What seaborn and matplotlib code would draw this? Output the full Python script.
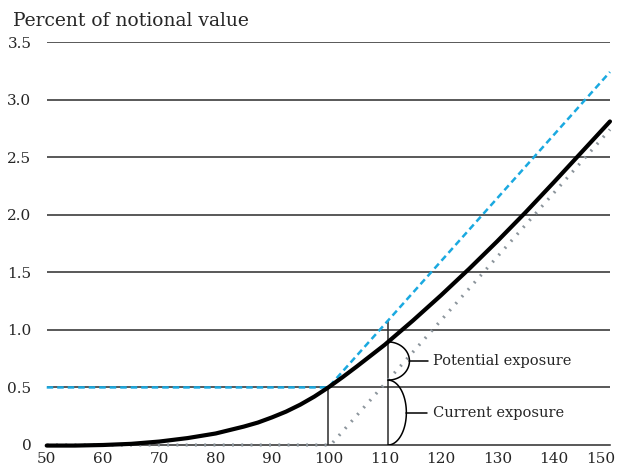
import numpy as np
import pandas as pd
import matplotlib
matplotlib.use('Agg')
from matplotlib import pyplot as plt
from matplotlib import transforms
import seaborn as sns

# values
price = [50, 55, 60, 65, 70, 75, 80, 82.5, 85, 87.5, 90, 92.5, 95, 97.5, 100, 102.5, 105,
         110, 115, 120, 125, 130, 135, 140, 145, 150]
option_value = [-0.005, -0.005, 0.0, 0.01, 0.03, 0.06, 0.10, 0.13, 0.16, 0.195, 0.24, 0.29,
                0.35, 0.42, 0.5, 0.588, 0.68, 0.87, 1.08, 1.30, 1.53, 1.77, 2.02, 2.28,
                2.545, 2.81]
intrinsic_x = [50, 100.4, 150]
intrinsic_y = [0, 0, 2.74]
bound_x = [50, 100, 150]
bound_y = [0.5, 0.5, 3.24]
x_ticks = [50, 60, 70, 80, 90, 100, 110, 120, 130, 140, 150]
y_ticks = [0, 0.5, 1.0, 1.5, 2.0, 2.5, 3.0, 3.5]
y_labels = ['0', '0.5', '1.0', '1.5', '2.0', '2.5', '3.0', '3.5']
marker_x = [100, 110.6]

sns.set_style('white')
plt.rcParams['font.family'] = ['DejaVu Serif']

fig = plt.figure(figsize=(6.18, 4.70), dpi=100)
ax = fig.add_axes([0.0756, 0.0532, 0.9114, 0.8574])

# gridlines
for yv in y_ticks[1:]:
    ax.axhline(yv, color='#2b2b2b', lw=1.1, zorder=1)

# vertical markers
ax.vlines(marker_x[0], 0, 0.5, color='#2b2b2b', lw=1.1, zorder=2)
top_blue = np.interp(marker_x[1], bound_x, bound_y)
ax.vlines(marker_x[1], 0, top_blue, color='#2b2b2b', lw=1.1, zorder=2)

sns.lineplot(x=intrinsic_x, y=intrinsic_y, ax=ax, color='#8c959c', lw=2.3,
             linestyle=(0, (0.6, 2.3)), zorder=3, clip_on=False)
sns.lineplot(x=bound_x, y=bound_y, ax=ax, color='#1aa9e0', lw=1.8,
             linestyle=(0, (2.6, 1.6)), zorder=4, clip_on=False)
sns.lineplot(x=price, y=option_value, ax=ax, color='black', lw=3.0, zorder=5,
             clip_on=False)

# braces
xm = marker_x[1]
y_cur = np.interp(xm, intrinsic_x, intrinsic_y)
y_tot = np.interp(xm, price, option_value)
t = np.linspace(0, np.pi, 80)
w1, w2 = 3.8, 3.25
mid1, h1 = (y_cur + y_tot) / 2, (y_tot - y_cur) / 2
mid2, h2 = y_cur / 2, y_cur / 2
ax.plot(xm + w1 * np.sin(t), mid1 + h1 * np.cos(t), color='black', lw=1.1, zorder=6)
ax.plot(xm + w2 * np.sin(t), mid2 + h2 * np.cos(t), color='black', lw=1.1, zorder=6)
ax.plot([xm + w1, 117.7], [mid1, mid1], color='black', lw=1.1, zorder=6)
ax.plot([xm + w2, 117.5], [mid2, mid2], color='black', lw=1.1, zorder=6)
ax.text(118.5, mid1, 'Potential exposure', fontsize=10.5, va='center', ha='left')
ax.text(118.5, mid2, 'Current exposure', fontsize=10.5, va='center', ha='left')

ax.set_xlim(50, 150)
ax.set_ylim(0, 3.5)
ax.set_xticks(x_ticks)
ax.set_xticklabels([str(v) for v in x_ticks], fontsize=11)
ax.set_yticks(y_ticks)
ax.set_yticklabels(y_labels, fontsize=11)
ax.tick_params(axis='x', direction='in', length=6, width=1, color='#2b2b2b', pad=5)
ax.tick_params(axis='y', length=0, pad=11)
for s in ['top', 'right', 'left']:
    ax.spines[s].set_visible(False)
ax.spines['bottom'].set_color('#2b2b2b')
ax.spines['bottom'].set_linewidth(1.1)
ax.set_xlabel('')
ax.set_ylabel('')

# last x label sits a little left of its tick, as in the reference
last = ax.get_xticklabels()[-1]
last.set_transform(last.get_transform() + transforms.ScaledTranslation(-9 / 100, 0, fig.dpi_scale_trans))

fig.text(0.021, 0.955, 'Percent of notional value', fontsize=13.5, ha='left', va='center')

fig.savefig('out.png', dpi=100)
